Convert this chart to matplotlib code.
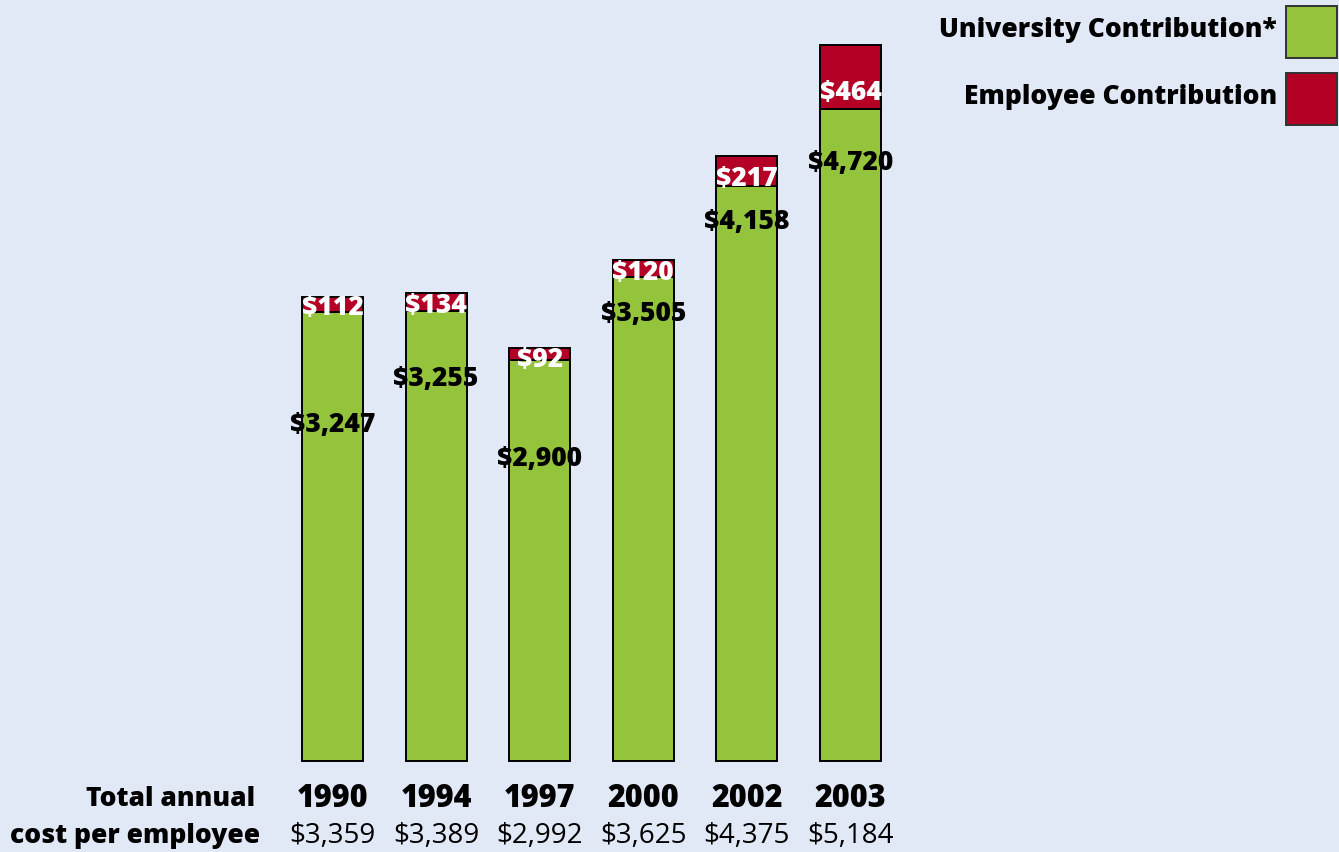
import matplotlib
matplotlib.use("Agg")
import matplotlib.pyplot as plt
from matplotlib.patches import Rectangle

plt.rcParams['font.family'] = ['Open Sans', 'DejaVu Sans']

# Data
years = ["1990", "1994", "1997", "2000", "2002", "2003"]
university = [3247, 3255, 2900, 3505, 4158, 4720]
employee = [112, 134, 92, 120, 217, 464]
totals = ["$3,359", "$3,389", "$2,992", "$3,625", "$4,375", "$5,184"]

# Label placement (dollars below the top of the green segment)
green_label_drop = [807, 482, 706, 265, 251, 388]
# Label placement (dollars below the middle of the red segment)
red_label_drop = [18, 22, 36, 29, 47, 108]

BG = "#e2e9f6"
GREEN = "#94c43c"
RED = "#b50026"

W, H = 1339, 853
fig = plt.figure(figsize=(W / 100, H / 100), dpi=100, facecolor=BG)
ax = fig.add_axes([0, 0, 1, 1])
ax.set_facecolor(BG)

px_x = 103.6          # pixels per category step
px_y = 0.1382         # pixels per dollar
x0_px, base_px = 332.5, 762
ax.set_xlim(-x0_px / px_x, (W - x0_px) / px_x)
ax.set_ylim(-(H - base_px) / px_y, base_px / px_y)
ax.axis("off")

xs = list(range(len(years)))
width = 0.589
ax.bar(xs, university, width=width, color=GREEN, edgecolor="black", linewidth=1.4, zorder=2)
ax.bar(xs, employee, width=width, bottom=university, color=RED, edgecolor="black",
       linewidth=1.4, zorder=2)

LBL = dict(fontsize=19, fontweight="heavy")
for x, u, e, gd, rd in zip(xs, university, employee, green_label_drop, red_label_drop):
    ax.text(x, u - gd, f"${u:,}", ha="center", va="center", color="black", zorder=3, **LBL)
    ax.text(x, u + e / 2 - rd, f"${e:,}", ha="center", va="center", color="white",
            zorder=3, **LBL)

# Bottom rows: years and total annual cost
row1 = -(799 - base_px) / px_y
row2 = -(836 - base_px) / px_y
for x, y, t in zip(xs, years, totals):
    ax.text(x, row1, y, ha="center", va="center", fontsize=22, fontweight="heavy")
    ax.text(x, row2, t, ha="center", va="center", fontsize=20)

fig.text(255 / W, 1 - 799 / H, "Total annual", ha="right", va="center", **LBL)
fig.text(260 / W, 1 - 836 / H, "cost per employee", ha="right", va="center", **LBL)

# Legend
legend_items = [("University Contribution*", GREEN, 7), ("Employee Contribution", RED, 74)]
for label, color, top in legend_items:
    fig.patches.append(Rectangle((1286 / W, 1 - (top + 52) / H), 51 / W, 52 / H,
                                 transform=fig.transFigure, facecolor=color,
                                 edgecolor="#333333", linewidth=1.4))
    fig.text(1277 / W, 1 - (top + 23) / H, label, ha="right", va="center", **LBL)

fig.savefig("out.png", dpi=100, facecolor=BG)
